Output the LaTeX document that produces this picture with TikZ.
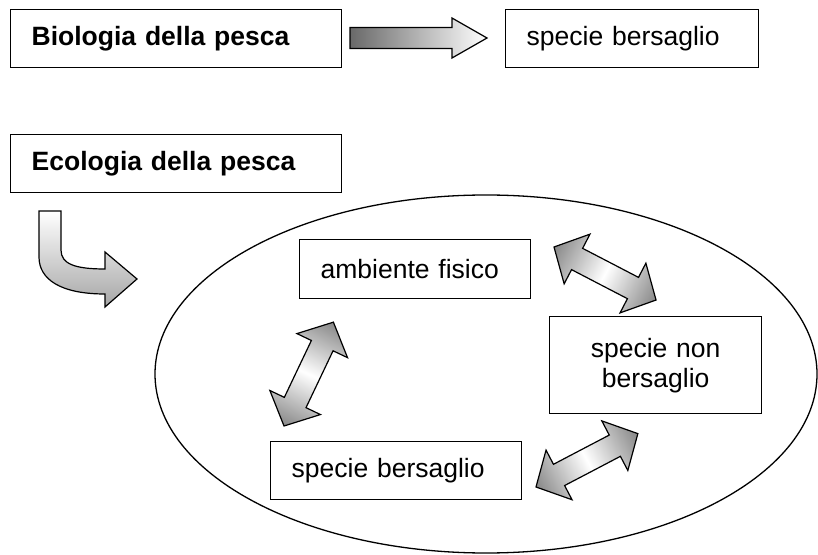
\documentclass[tikz,border=0pt]{standalone}
\usepackage{fontspec}
\setmainfont{Liberation Sans}
\usepackage{xcolor}
\definecolor{arrgray}{RGB}{135,135,135}
\definecolor{dkgray}{RGB}{105,105,105}
\tikzset{
  box/.style={draw, line width=1.3pt, inner xsep=21pt, inner ysep=0pt, minimum height=58pt,
    align=left, anchor=north west, font=\fontsize{26.5}{30}\selectfont},
  blockarr/.style={draw, line width=1.2pt, line join=miter,
    left color=arrgray, right color=arrgray, middle color=white},
  dblarr/.pic={\draw[blockarr] (0,0) -- (26,28) -- (26,12) -- (89,12) -- (89,28) -- (115,0)
    -- (89,-28) -- (89,-12) -- (26,-12) -- (26,-28) -- cycle;}
}

\begin{document}
\begin{tikzpicture}[x=1pt, y=1pt]
\useasboundingbox (0,0) rectangle (818,554);

% top row
\node[box, text width=289pt, font=\fontsize{26.5}{30}\selectfont\bfseries] (bio) at (10,545) {Biologia della pesca};
\node[box, text width=211pt] (tgttop) at (505,545) {specie bersaglio};
\draw[line width=1.2pt, left color=dkgray, right color=white]
  (350,526.5) -- (452,526.5) -- (452,536) -- (487,516) -- (452,496) -- (452,505.5) -- (350,505.5) -- cycle;

% ecology
\node[box, text width=289pt, font=\fontsize{26.5}{30}\selectfont\bfseries] (eco) at (10,420) {Ecologia della pesca};
\draw[line width=1.2pt, top color=white, bottom color=gray!70]
  (39,343) -- (61,343) -- (61,304) .. controls (61,290) and (75,285) .. (105,285)
  -- (105,302) -- (137,275) -- (105,247) -- (105,260)
  .. controls (60,260) and (39,275) .. (39,297) -- cycle;

% the system
\draw[line width=1.3pt] (486,180) ellipse [x radius=331, y radius=179];
\node[box, text width=189pt, minimum height=59pt] (amb) at (299,315) {ambiente fisico};
\node[box, text width=170pt, minimum height=97pt, align=center] (nontgt) at (549,238) {specie non\\bersaglio};
\node[box, text width=209pt] (tgtbot) at (270,113) {specie bersaglio};

% links
\begin{scope}[transform canvas={shift={(554,307)}, rotate=-27.46}]
\pic {dblarr};
\end{scope}
\begin{scope}[transform canvas={shift={(284,128)}, rotate=64.56}]
\pic {dblarr};
\end{scope}
\begin{scope}[transform canvas={shift={(536,67)}, rotate=27.66}]
\pic {dblarr};
\end{scope}
\end{tikzpicture}
\end{document}
